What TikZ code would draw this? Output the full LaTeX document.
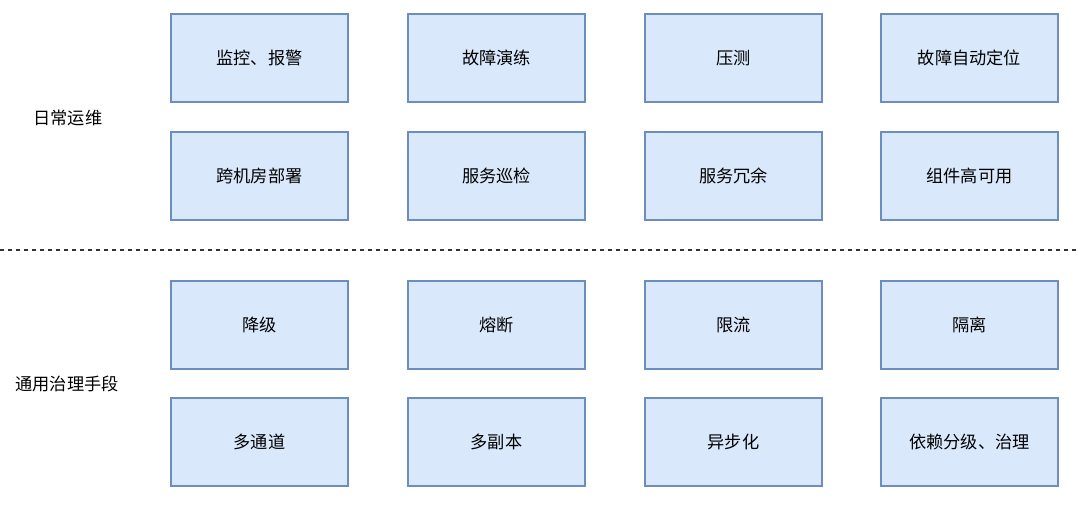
\documentclass[tikz,border=0pt]{standalone}
\usepackage{fontspec}
\newfontfamily\cjk{Noto Sans CJK SC}
\usepackage{tikz}
\usetikzlibrary{positioning}
\definecolor{boxfill}{HTML}{DAE8FC}
\definecolor{boxline}{HTML}{6C8EBF}
\definecolor{sepline}{HTML}{333333}

\begin{document}
\begin{tikzpicture}[
    x=0.5pt, y=-0.5pt,
    cell/.style={draw=boxline, fill=boxfill, line width=0.8pt, minimum width=88.5pt, minimum height=44pt, inner sep=0pt, font=\cjk\fontsize{8.6}{10}\selectfont},
    lbl/.style={font=\cjk\fontsize{8.6}{10}\selectfont, text=black},
    sep/.style={draw=sepline, line width=0.9pt, dash pattern=on 2pt off 2pt}
]
    \useasboundingbox (0,0) rectangle (1080,507);
    % daily operations
    \node[cell] (monitor) at (259.5,58) {监控、报警};
    \node[cell] (drill) at (496.5,58) {故障演练};
    \node[cell] (stress) at (733.5,58) {压测};
    \node[cell] (locate) at (969.5,58) {故障自动定位};
    \node[cell] (idc) at (259.5,176) {跨机房部署};
    \node[cell] (patrol) at (496.5,176) {服务巡检};
    \node[cell] (redund) at (733.5,176) {服务冗余};
    \node[cell] (ha) at (969.5,176) {组件高可用};
    \node[lbl] (daily) at (68,118) {日常运维};
    % separator
    \coordinate (sepL) at (0,250);
    \coordinate (sepR) at (1080,250);
    \draw[sep] (sepL) -- (sepR);
    % general governance
    \node[cell] (degrade) at (259.5,325) {降级};
    \node[cell] (breaker) at (496.5,325) {熔断};
    \node[cell] (limit) at (733.5,325) {限流};
    \node[cell] (isolate) at (969.5,325) {隔离};
    \node[cell] (multich) at (259.5,442) {多通道};
    \node[cell] (replica) at (496.5,442) {多副本};
    \node[cell] (async) at (733.5,442) {异步化};
    \node[cell] (depend) at (969.5,442) {依赖分级、治理};
    \node[lbl] (govern) at (67,384) {通用治理手段};
\end{tikzpicture}
\end{document}
